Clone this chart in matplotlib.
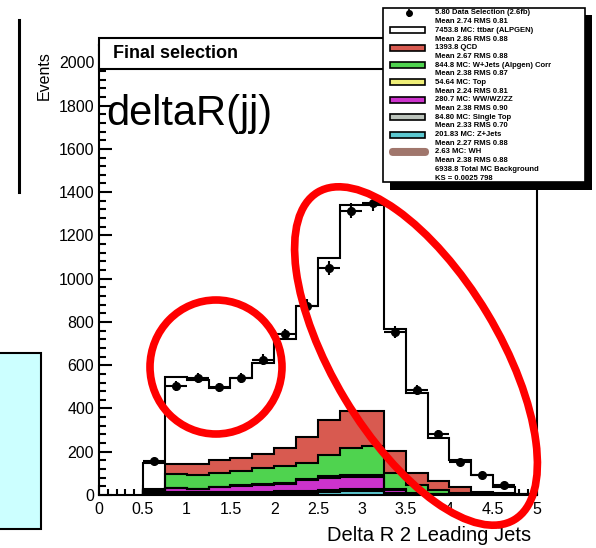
import numpy as np
import matplotlib.pyplot as plt
from matplotlib.patches import Rectangle, Ellipse, FancyBboxPatch
from matplotlib.ticker import MultipleLocator, FormatStrFormatter

plt.rcParams['font.family'] = ['Liberation Sans', 'DejaVu Sans']

W, H = 596, 548

# 0.25-wide bins from 0.5 to 5.0
bin_edges = np.arange(0.5, 5.01, 0.25)

data_counts = [157, 505, 540, 497, 540, 625, 742, 875, 1050, 1315,
               1350, 755, 485, 282, 152, 92, 46, 0]

# MC components, bottom of the stack first
mc_cyan = [6, 7, 7, 7, 8, 8, 9, 11, 13, 20, 20, 6, 2, 1, 1, 0, 0, 0]
mc_grey = [6, 7, 6, 7, 7, 8, 8, 9, 9, 8, 8, 4, 2, 1, 0, 1, 0, 0]
mc_purple = [8, 18, 15, 23, 27, 30, 34, 49, 57, 57, 57, 13, 2, 1, 1, 0, 0, 0]
mc_yellow = [2, 2, 2, 2, 2, 3, 4, 5, 7, 7, 7, 3, 1, 1, 0, 0, 1, 0]
mc_green = [3, 63, 62, 63, 67, 76, 79, 74, 99, 125, 134, 76, 39, 19, 8, 3, 1, 1]
mc_red = [5, 46, 53, 60, 60, 64, 83, 120, 161, 173, 162, 101, 56, 42, 27, 10, 6, 2]
mc_white = [118, 402, 387, 332, 369, 423, 505, 605, 749, 950, 952, 564, 369,
            198, 125, 78, 29, 2]

RED = '#d85a50'
GREEN = '#4fd34f'
YELLOW = '#eeee77'
PURPLE = '#cc33cc'
GREY = '#bcc4bc'
CYAN = '#5cc8d0'
BROWN = '#a0766c'

legend_lines = [
    '5.80 Data Selection (2.6fb)', 'Mean 2.74 RMS 0.81',
    '7453.8 MC: ttbar (ALPGEN)', 'Mean 2.86 RMS 0.88',
    '1393.8 QCD', 'Mean 2.67 RMS 0.88',
    '844.8 MC: W+Jets (Alpgen) Corr', 'Mean 2.38 RMS 0.87',
    '54.64 MC: Top', 'Mean 2.24 RMS 0.81',
    '280.7 MC: WW/WZ/ZZ', 'Mean 2.38 RMS 0.90',
    '84.80 MC: Single Top', 'Mean 2.33 RMS 0.70',
    '201.83 MC: Z+Jets', 'Mean 2.27 RMS 0.88',
    '2.63 MC: WH', 'Mean 2.38 RMS 0.88',
    '6938.8 Total MC Background', 'KS = 0.0025 798',
]
legend_colors = ['white', RED, GREEN, YELLOW, PURPLE, GREY, CYAN, BROWN]

fig = plt.figure(figsize=(W / 100, H / 100), dpi=100)
ax = fig.add_axes([99 / W, (H - 495) / H, (537 - 99) / W, (495 - 45) / H])

layers = [(mc_cyan, CYAN), (mc_grey, GREY), (mc_purple, PURPLE),
          (mc_yellow, YELLOW), (mc_green, GREEN), (mc_red, RED),
          (mc_white, 'white')]
base = np.zeros(len(bin_edges) - 1)
for vals, col in layers:
    top = base + np.asarray(vals, dtype=float)
    ax.stairs(top, bin_edges, baseline=base, fill=True, color=col, zorder=2)
    ax.stairs(top, bin_edges, baseline=0, color='black', lw=1.5, zorder=3)
    base = top

data = np.asarray(data_counts, dtype=float)
centers = 0.5 * (bin_edges[:-1] + bin_edges[1:])
ok = data > 0
ax.errorbar(centers[ok], data[ok], yerr=np.sqrt(data[ok]), xerr=0.125,
            fmt='o', color='black', ms=5.5, lw=1.5, capsize=0, zorder=4)

ax.set_xlim(0, 5)
ax.set_ylim(0, 2080)
ax.xaxis.set_major_locator(MultipleLocator(0.5))
ax.xaxis.set_minor_locator(MultipleLocator(0.1))
ax.yaxis.set_major_locator(MultipleLocator(200))
ax.yaxis.set_minor_locator(MultipleLocator(40))
ax.xaxis.set_major_formatter(FormatStrFormatter('%g'))
ax.tick_params(axis='both', which='both', direction='in', top=False,
               right=False, labelsize=11.5, width=1.5)
ax.tick_params(axis='y', which='major', length=9.5)
ax.tick_params(axis='y', which='minor', length=5)
ax.tick_params(axis='x', which='major', length=7, pad=5)
ax.tick_params(axis='x', which='minor', length=4)
for s in ax.spines.values():
    s.set_linewidth(1.5)

ax.set_xlabel('Delta R 2 Leading Jets', fontsize=14.5, loc='right')
ax.xaxis.set_label_coords((531 - 99) / 438, -0.069)
ax.set_ylabel('Events', fontsize=11.5)
ax.yaxis.set_label_coords(-0.107, 0.933)

# overlay in pixel units for the pad decorations
ov = fig.add_axes([0, 0, 1, 1], zorder=5)
ov.set_xlim(0, W)
ov.set_ylim(H, 0)
ov.axis('off')
ov.patch.set_alpha(0)

ov.plot([19, 19], [20, 192], color='black', lw=2.2)
ov.add_patch(Rectangle((-5, 353), 46, 176, fc='#ccffff', ec='black', lw=1.5))

ov.add_patch(Rectangle((99, 38), 290, 31, fc='white', ec='black', lw=1.5))
ov.text(113, 54, 'Final selection', fontsize=13, fontweight='bold',
        va='center', ha='left')
ov.text(106, 125, 'deltaR(jj)', fontsize=30, va='baseline', ha='left')

# legend box with drop shadow
ov.add_patch(Rectangle((390, 15), 202, 175, fc='black', ec='none'))
ov.add_patch(Rectangle((383, 8), 202, 174, fc='white', ec='black', lw=1.2))
line_y = np.linspace(13, 178, len(legend_lines))
for y, txt in zip(line_y, legend_lines):
    ov.text(435, y, txt, fontsize=5.5, fontweight='bold', va='center',
            ha='left')
ov.errorbar([409], [line_y[0]], yerr=[4], fmt='o', color='black', ms=4,
            lw=1.2, capsize=0)
for i, col in enumerate(legend_colors):
    y = line_y[2 * (i + 1)]
    if col == BROWN:
        ov.add_patch(FancyBboxPatch((389, y - 4), 40, 8,
                                    boxstyle='round,pad=0,rounding_size=4',
                                    fc=col, ec='none'))
    else:
        ov.add_patch(Rectangle((390, y - 3), 35, 6, fc=col, ec='black', lw=1.2))

# highlight rings
ov.add_patch(Ellipse((216, 367), 132, 134, fill=False, ec='red', lw=5.5))
ov.add_patch(Ellipse((416, 356), 382, 166, angle=59, fill=False, ec='red',
                     lw=5.5))

fig.savefig('out.png', dpi=100, facecolor='white')
